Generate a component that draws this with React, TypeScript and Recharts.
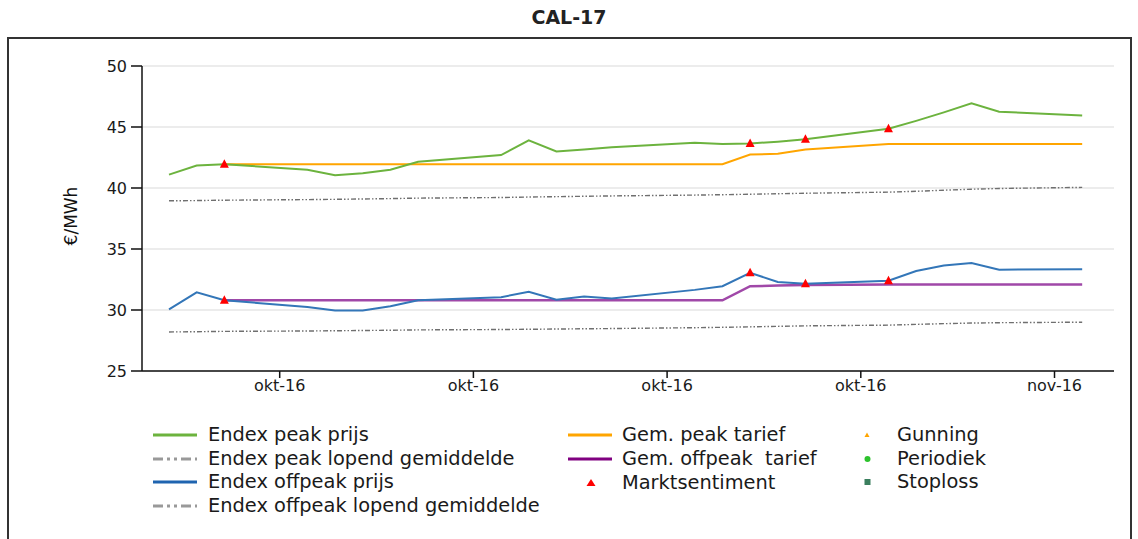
import React from "react";
import { LineChart, Line, XAxis, YAxis, CartesianGrid } from "recharts";

// handelsdagen CAL-17
const dates = [
  "2016-10-05", "2016-10-06", "2016-10-07", "2016-10-10", "2016-10-11", "2016-10-12",
  "2016-10-13", "2016-10-14", "2016-10-17", "2016-10-18", "2016-10-19", "2016-10-20",
  "2016-10-21", "2016-10-24", "2016-10-25", "2016-10-26", "2016-10-27", "2016-10-28",
  "2016-10-31", "2016-11-01", "2016-11-02", "2016-11-03", "2016-11-04", "2016-11-07",
];

const peakPrijs = [
  41.1, 41.85, 41.95, 41.5, 41.05, 41.2, 41.5, 42.15, 42.7, 43.9, 43.0, 43.15,
  43.35, 43.7, 43.6, 43.65, 43.8, 44.0, 44.85, 45.5, 46.2, 46.95, 46.25, 45.95,
];
const peakGemiddelde = [
  38.95, 38.97, 39.0, 39.05, 39.07, 39.1, 39.13, 39.17, 39.22, 39.26, 39.29, 39.32,
  39.35, 39.42, 39.45, 39.49, 39.53, 39.57, 39.66, 39.73, 39.82, 39.9, 39.96, 40.05,
];
const offpeakPrijs = [
  30.05, 31.45, 30.8, 30.25, 29.95, 29.95, 30.3, 30.8, 31.05, 31.5, 30.85, 31.1,
  30.95, 31.65, 31.95, 33.05, 32.3, 32.15, 32.4, 33.2, 33.65, 33.85, 33.3, 33.35,
];
const offpeakGemiddelde = [
  28.2, 28.22, 28.25, 28.28, 28.3, 28.32, 28.34, 28.37, 28.4, 28.42, 28.44, 28.46,
  28.48, 28.55, 28.58, 28.62, 28.66, 28.7, 28.76, 28.82, 28.88, 28.93, 28.96, 29.0,
];
const peakTarief = [
  null, null, 41.95, 41.95, 41.95, 41.95, 41.95, 41.95, 41.95, 41.95, 41.95, 41.95,
  41.95, 41.95, 41.95, 42.75, 42.8, 43.15, 43.6, 43.6, 43.6, 43.6, 43.6, 43.6,
];
const offpeakTarief = [
  null, null, 30.8, 30.8, 30.8, 30.8, 30.8, 30.8, 30.8, 30.8, 30.8, 30.8,
  30.8, 30.8, 30.8, 31.95, 32.0, 32.05, 32.1, 32.1, 32.1, 32.1, 32.1, 32.1,
];
const sentimentPeak = [
  null, null, 41.95, null, null, null, null, null, null, null, null, null,
  null, null, null, 43.65, null, 44.0, 44.85, null, null, null, null, null,
];
const sentimentOffpeak = [
  null, null, 30.8, null, null, null, null, null, null, null, null, null,
  null, null, null, 33.05, null, 32.15, 32.4, null, null, null, null, null,
];

const xTicks = ["2016-10-09", "2016-10-16", "2016-10-23", "2016-10-30", "2016-11-06"];
const yTicks = [25, 30, 35, 40, 45, 50];
const maanden = ["jan", "feb", "mrt", "apr", "mei", "jun", "jul", "aug", "sep", "okt", "nov", "dec"];

const DAY = 86400000;
const FONT = "'DejaVu Sans', Verdana, sans-serif";

const data = dates.map((d, i) => ({
  t: Date.parse(d),
  peakPrijs: peakPrijs[i],
  peakGem: peakGemiddelde[i],
  offPrijs: offpeakPrijs[i],
  offGem: offpeakGemiddelde[i],
  peakTarief: peakTarief[i],
  offTarief: offpeakTarief[i],
  sentPeak: sentimentPeak[i],
  sentOff: sentimentOffpeak[i],
}));

const t0 = Date.parse(dates[0]);

function fmtMaand(v: number) {
  const d = new Date(v);
  return `${maanden[d.getUTCMonth()]}-${String(d.getUTCFullYear()).slice(2)}`;
}

function Triangle(props: any) {
  const { cx, cy, value, index } = props;
  if (value == null || cy == null || cx == null) return <g key={`tri-${index}`} />;
  return (
    <polygon
      key={`tri-${index}`}
      points={`${cx},${cy - 5} ${cx - 4.5},${cy + 3.5} ${cx + 4.5},${cy + 3.5}`}
      fill="#ff0000"
    />
  );
}

const GREEN = "#6cb33e";
const BLUE = "#3376b8";
const ORANGE = "#ffa500";
const PURPLE = "#a048a8";
const GRAY = "#6f6f6f";
const DASH = "5 2 1.5 2 1.5 2";

function LegendLine({ color, dash }: { color: string; dash?: string }) {
  return (
    <svg width={44} height={8} style={{ display: "block" }}>
      <line x1={0} y1={4} x2={44} y2={4} stroke={color} strokeWidth={3} strokeDasharray={dash} />
    </svg>
  );
}

type Item = { x: number; y: number; label: string; icon: React.ReactNode; textX: number };

export default function App() {
  const legend: Item[] = [
    { x: 153, y: 435, textX: 208, label: "Endex peak prijs", icon: <LegendLine color={GREEN} /> },
    { x: 153, y: 459, textX: 208, label: "Endex peak lopend gemiddelde", icon: <LegendLine color="#999" dash="10 4 3 4 3 4" /> },
    { x: 153, y: 482, textX: 208, label: "Endex offpeak prijs", icon: <LegendLine color="#1f64b0" /> },
    { x: 153, y: 506, textX: 208, label: "Endex offpeak lopend gemiddelde", icon: <LegendLine color="#999" dash="10 4 3 4 3 4" /> },
    { x: 568, y: 435, textX: 622, label: "Gem. peak tarief", icon: <LegendLine color={ORANGE} /> },
    { x: 568, y: 459, textX: 622, label: "Gem. offpeak\u00a0 tarief", icon: <LegendLine color="#800080" /> },
    {
      x: 586, y: 483, textX: 622, label: "Marktsentiment",
      icon: (
        <svg width={10} height={8} style={{ display: "block" }}>
          <polygon points="5,0 0.5,7 9.5,7" fill="#ff0000" />
        </svg>
      ),
    },
    {
      x: 864, y: 435, textX: 897, label: "Gunning",
      icon: (
        <svg width={6} height={6} style={{ display: "block" }}>
          <polygon points="3,0.5 0.5,5 5.5,5" fill={ORANGE} />
        </svg>
      ),
    },
    {
      x: 864, y: 459, textX: 897, label: "Periodiek",
      icon: (
        <svg width={7} height={7} style={{ display: "block" }}>
          <circle cx={3.5} cy={3.5} r={3} fill="#2dc22d" />
        </svg>
      ),
    },
    {
      x: 864, y: 482, textX: 897, label: "Stoploss",
      icon: (
        <svg width={7} height={7} style={{ display: "block" }}>
          <rect x={0.5} y={0.5} width={6} height={6} fill="#3b7f5e" />
        </svg>
      ),
    },
  ];

  return (
    <div style={{ position: "relative", width: 1138, height: 539, overflow: "hidden", background: "#fff", fontFamily: FONT }}>
      <style>{`body{margin:0}`}</style>
      <div
        style={{
          position: "absolute", left: 0, top: 6, width: 1138, textAlign: "center",
          fontSize: 19, fontWeight: "bold", lineHeight: "22px", color: "#222",
        }}
      >
        CAL-17
      </div>
      <div
        style={{
          position: "absolute", left: 7, top: 37, width: 1121, height: 540,
          border: "2px solid #333",
        }}
      />
      <div
        style={{
          position: "absolute", left: 31, top: 206, width: 80, height: 20, lineHeight: "20px",
          textAlign: "center", fontSize: 17, color: "#111", transform: "rotate(-90deg)",
        }}
      >
        €/MWh
      </div>
      <div style={{ position: "absolute", left: 0, top: 0 }}>
        <LineChart width={1138} height={410} data={data} margin={{ top: 66, right: 24, bottom: 9, left: 82 }}>
          <CartesianGrid vertical={false} stroke="#d9d9d9" />
          <XAxis
            dataKey="t"
            type="number"
            domain={[t0 - 0.976 * DAY, t0 + 34.15 * DAY]}
            ticks={xTicks.map((d) => Date.parse(d))}
            tickFormatter={fmtMaand}
            height={30}
            tickSize={7}
            tickMargin={2}
            axisLine={{ stroke: "#111", strokeWidth: 1.5 }}
            tickLine={{ stroke: "#111", strokeWidth: 1.5 }}
            tick={{ fontSize: 16, fill: "#1a1a1a", fontFamily: FONT }}
          />
          <YAxis
            domain={[25, 50]}
            ticks={yTicks}
            width={60}
            tickSize={11}
            tickMargin={4}
            axisLine={{ stroke: "#111", strokeWidth: 1.5 }}
            tickLine={{ stroke: "#111", strokeWidth: 1.5 }}
            tick={{ fontSize: 16, fill: "#1a1a1a", fontFamily: FONT }}
          />
          <Line dataKey="peakGem" stroke={GRAY} strokeWidth={1.4} strokeDasharray={DASH} dot={false} isAnimationActive={false} />
          <Line dataKey="offGem" stroke={GRAY} strokeWidth={1.4} strokeDasharray={DASH} dot={false} isAnimationActive={false} />
          <Line dataKey="peakTarief" stroke={ORANGE} strokeWidth={2} dot={false} isAnimationActive={false} />
          <Line dataKey="offTarief" stroke={PURPLE} strokeWidth={2.5} dot={false} isAnimationActive={false} />
          <Line dataKey="peakPrijs" stroke={GREEN} strokeWidth={2} dot={false} isAnimationActive={false} />
          <Line dataKey="offPrijs" stroke={BLUE} strokeWidth={2} dot={false} isAnimationActive={false} />
          <Line dataKey="sentPeak" stroke="none" dot={Triangle} activeDot={false} isAnimationActive={false} />
          <Line dataKey="sentOff" stroke="none" dot={Triangle} activeDot={false} isAnimationActive={false} />
        </LineChart>
      </div>
      {legend.map((it) => (
        <React.Fragment key={it.label}>
          <div style={{ position: "absolute", left: it.x, top: it.y, transform: "translateY(-50%)" }}>{it.icon}</div>
          <div
            style={{
              position: "absolute", left: it.textX, top: it.y - 12, lineHeight: "24px",
              fontSize: 19.4, color: "#1a1a1a", whiteSpace: "pre",
            }}
          >
            {it.label}
          </div>
        </React.Fragment>
      ))}
    </div>
  );
}
